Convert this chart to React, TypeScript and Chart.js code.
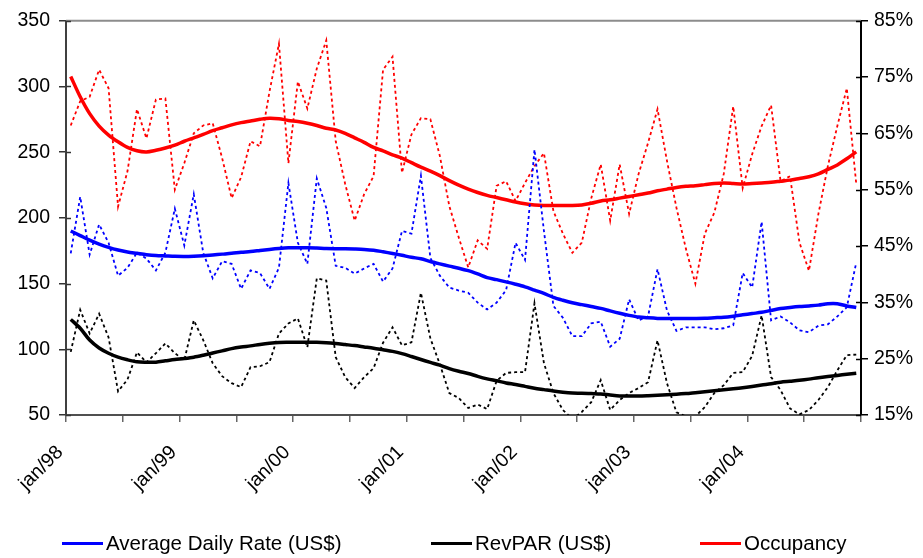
import React, { useEffect, useRef } from 'react';
import { Chart, registerables } from 'chart.js';

Chart.register(...registerables);

const FONT = '"Liberation Sans", Arial, Helvetica, sans-serif';

// x-axis tick labels (one every 12 months; ticks every 6 months)
const tickLabels = ['jan/98', 'jan/99', 'jan/00', 'jan/01', 'jan/02', 'jan/03', 'jan/04'];

// Monthly values, jan/98 .. dec/04
const adrMonthly = [
  173, 216, 172, 195, 181, 156, 162, 173.5, 169, 160, 173.5, 207,
  179, 218, 173.5, 154, 167, 165, 146, 160, 158, 146, 162, 226.5,
  181, 165, 230, 207.5, 163.5, 162, 157.5, 161.5, 165, 151.5, 161.5, 190,
  188, 232, 169.5, 156, 147, 144.7, 143, 135.5, 130.3, 135.5, 145, 181,
  168, 252, 190, 133, 124, 110, 110, 119.7, 121, 102, 108, 138,
  122, 125, 161, 129.5, 114, 116.7, 116.7, 116.7, 115.2, 116, 118.2, 158,
  147, 197, 122, 125, 120.5, 114.4, 113, 118, 119, 125, 132, 166,
];

const revparMonthly = [
  98, 130, 112, 127, 109, 68, 77, 97.7, 90, 97, 104.5, 97,
  91.7, 122, 107, 89.4, 79.5, 74.2, 71.2, 86.4, 87.1, 90.2, 112, 119.7,
  123.5, 101.5, 154, 152.3, 94, 78.8, 70.5, 78.8, 85.6, 105, 116.7, 103,
  105.3, 143, 108.3, 88.6, 66.7, 62.9, 55.3, 58, 54.5, 76, 82, 82.6,
  82.6, 135, 89.4, 66.7, 53.8, 47, 52.3, 59.8, 76.5, 53.8, 61.4, 66.7,
  70.5, 75, 106.8, 74.2, 52, 49, 49, 56, 66.7, 72.7, 82, 82.6,
  95, 125.8, 78.8, 69, 55, 50.5, 53.8, 61.4, 71.2, 84, 95.5, 96,
];

const occMonthly = [
  66.4, 70.7, 71.5, 76.3, 73.0, 52.0, 58.3, 69.3, 64.1, 71.0, 71.2, 55.0,
  59.7, 65.0, 66.4, 66.8, 60.6, 53.5, 57.2, 63.6, 62.7, 72.4, 80.9, 59.7,
  74.2, 69.4, 76.5, 81.5, 63.6, 56.0, 49.5, 54.2, 57.4, 76.3, 78.6, 58.0,
  64.8, 67.7, 67.5, 61.0, 52.1, 46.5, 41.2, 46.0, 44.5, 55.7, 56.5, 53.0,
  56.2, 59.2, 61.5, 51.2, 47.2, 43.8, 45.6, 53.5, 59.5, 49.5, 59.5, 50.7,
  57.8, 63.3, 69.3, 60.1, 51.8, 44.5, 38.3, 47.2, 50.9, 57.8, 69.8, 55.3,
  61.3, 66.3, 70.0, 56.5, 57.4, 45.6, 40.6, 50.7, 59.2, 66.3, 73.0, 56.0,
];

// Trend lines
const adrTrend = [
  190, 186.5, 183, 180, 177.5, 175.5, 174, 173, 172, 171.3, 171, 170.7,
  170.6, 170.8, 171.2, 171.8, 172.4, 173, 173.8, 174.4, 175.2, 176, 176.7, 177.2,
  177.3, 177.3, 177, 176.6, 176.5, 176.5, 176.3, 176, 175.4, 174.2, 172.9, 171.5,
  170, 168.9, 166.8, 165, 163.3, 161.7, 159.8, 157.3, 154.5, 153, 151.3, 149.5,
  147.5, 145, 142.5, 139.5, 137.3, 135.4, 134, 132.5, 131.1, 129.2, 127.4, 125.8,
  124.5, 123.9, 123.5, 123.5, 123.5, 123.5, 123.5, 123.6, 124, 124.4, 125.2, 126.2,
  127.2, 128.1, 129.6, 131, 131.8, 132.5, 133, 133.6, 134.6, 134.6, 133, 131.8,
];

const revparTrend = [
  122.7, 116, 107, 101, 97, 94, 92, 90.5, 90.2, 90.2, 91.2, 92.2,
  93, 94, 95.5, 97.2, 98.8, 100.5, 101.7, 102.6, 103.7, 104.6, 105.2, 105.3,
  105.3, 105.3, 105.3, 105, 104.4, 103.6, 102.8, 101.8, 100.8, 99.6, 98.4, 96.7,
  94.5, 92.2, 90, 87.9, 85.3, 83.3, 81.6, 79.4, 77.5, 76, 74.4, 73.2,
  71.8, 70.4, 69.3, 68.2, 67.3, 66.7, 66.6, 66.3, 66, 65.2, 64.5, 64.4,
  64.4, 64.7, 65.1, 65.5, 65.8, 66.3, 67, 67.7, 68.5, 69.2, 69.9, 70.7,
  71.7, 72.8, 73.8, 75, 75.7, 76.4, 77.3, 78.4, 79.3, 80.1, 81, 81.8,
];

const occTrend = [
  75.1, 71.5, 68.5, 66.3, 64.7, 63.5, 62.5, 61.9, 61.7, 62.0, 62.4, 62.9,
  63.6, 64.2, 64.8, 65.5, 66.0, 66.5, 66.9, 67.2, 67.5, 67.7, 67.6, 67.3,
  67.1, 66.8, 66.4, 65.9, 65.6, 65.0, 64.2, 63.4, 62.5, 61.9, 61.2, 60.6,
  59.8, 59.0, 58.3, 57.5, 56.6, 55.8, 55.1, 54.5, 54.0, 53.6, 53.2, 52.8,
  52.5, 52.3, 52.2, 52.2, 52.2, 52.2, 52.3, 52.6, 53.0, 53.2, 53.5, 53.8,
  54.1, 54.4, 54.8, 55.1, 55.4, 55.6, 55.7, 55.9, 56.1, 56.2, 56.1, 56.0,
  56.1, 56.2, 56.3, 56.5, 56.7, 57.0, 57.3, 57.8, 58.6, 59.4, 60.5, 61.7,
];

const seriesNames = ['Average Daily Rate (US$)', 'RevPAR (US$)', 'Occupancy'];
const seriesColors = ['#0000FF', '#000000', '#FF0000'];

// monthly points sit in the middle of each month
const toPoints = (arr: number[]) => arr.map((v, i) => ({ x: i + 0.5, y: v }));

const axisDecor = {
  id: 'axisDecor',
  afterDraw(chart: any) {
    const { ctx, chartArea: a, scales } = chart;
    ctx.save();
    ctx.strokeStyle = '#8c8c8c';
    ctx.lineWidth = 2;
    ctx.beginPath();
    ctx.moveTo(a.left, a.top);
    ctx.lineTo(a.right, a.top);
    ctx.stroke();
    ctx.lineWidth = 1.5;
    ctx.strokeStyle = '#333333';
    scales.y.ticks.forEach((t: any) => {
      const y = Math.round(scales.y.getPixelForValue(t.value)) + 0.5;
      ctx.beginPath();
      ctx.moveTo(a.left, y);
      ctx.lineTo(a.left + 5, y);
      ctx.stroke();
    });
    ctx.strokeStyle = '#000000';
    scales.y1.ticks.forEach((t: any) => {
      const y = Math.round(scales.y1.getPixelForValue(t.value)) + 0.5;
      ctx.beginPath();
      ctx.moveTo(a.right - 5, y);
      ctx.lineTo(a.right, y);
      ctx.stroke();
    });
    ctx.restore();
  },
};

export default function App() {
  const canvasRef = useRef<HTMLCanvasElement | null>(null);

  useEffect(() => {
    const canvas = canvasRef.current;
    if (!canvas) return;
    const dotted = { borderWidth: 1.8, borderDash: [3, 3], pointRadius: 0, fill: false, tension: 0 };
    const solid = { borderWidth: 3.5, pointRadius: 0, fill: false, tension: 0.3 };
    const [BLUE, BLACK, RED] = seriesColors;
    const chart = new Chart(canvas, {
      type: 'line',
      data: {
        datasets: [
          { label: seriesNames[0] + ' (monthly)', data: toPoints(adrMonthly), borderColor: BLUE, backgroundColor: BLUE, yAxisID: 'y', ...dotted },
          { label: seriesNames[1] + ' (monthly)', data: toPoints(revparMonthly), borderColor: BLACK, backgroundColor: BLACK, yAxisID: 'y', ...dotted },
          { label: seriesNames[2] + ' (monthly)', data: toPoints(occMonthly), borderColor: RED, backgroundColor: RED, yAxisID: 'y1', ...dotted },
          { label: seriesNames[0], data: toPoints(adrTrend), borderColor: BLUE, backgroundColor: BLUE, yAxisID: 'y', ...solid },
          { label: seriesNames[1], data: toPoints(revparTrend), borderColor: BLACK, backgroundColor: BLACK, yAxisID: 'y', ...solid },
          { label: seriesNames[2], data: toPoints(occTrend), borderColor: RED, backgroundColor: RED, yAxisID: 'y1', ...solid },
        ],
      },
      options: {
        animation: false,
        responsive: false,
        devicePixelRatio: 1,
        layout: { padding: { top: 19, left: 0, right: 0, bottom: 0 } },
        plugins: {
          tooltip: { enabled: false },
          legend: { display: false },
        },
        scales: {
          x: {
            type: 'linear',
            min: 0,
            max: 84,
            afterFit: (s: any) => { s.height = 143; },
            ticks: {
              stepSize: 6,
              maxTicksLimit: 100,
              autoSkip: false,
              maxRotation: 45,
              minRotation: 45,
              padding: 19,
              labelOffset: -6,
              color: '#000',
              font: { family: FONT, size: 19.5 },
              callback: (v: any) => {
                const n = Math.round(Number(v));
                return n % 12 === 0 && n / 12 < tickLabels.length ? tickLabels[n / 12] : '';
              },
            },
            grid: { drawOnChartArea: false, drawTicks: true, tickLength: 7, color: '#666666', lineWidth: 1.5 },
            border: { display: true, color: '#505050', width: 2 },
          },
          y: {
            type: 'linear',
            position: 'left',
            min: 50,
            max: 350,
            afterFit: (s: any) => { s.width = 66; },
            ticks: { stepSize: 50, padding: 9, color: '#000', font: { family: FONT, size: 19.5 } },
            grid: { drawOnChartArea: false, drawTicks: true, tickLength: 7, color: '#333333', lineWidth: 1.5 },
            border: { display: true, color: '#404040', width: 2 },
          },
          y1: {
            type: 'linear',
            position: 'right',
            min: 15,
            max: 85,
            afterFit: (s: any) => { s.width = 62; },
            ticks: {
              stepSize: 10,
              padding: 6,
              color: '#000',
              font: { family: FONT, size: 19.5 },
              callback: (v: any) => `${v}%`,
            },
            grid: { drawOnChartArea: false, drawTicks: true, tickLength: 7, color: '#000000', lineWidth: 1.5 },
            border: { display: true, color: '#000000', width: 2 },
          },
        },
      },
      plugins: [axisDecor],
    } as any);
    return () => chart.destroy();
  }, []);

  const legendLeft = [62, 431, 700];

  return (
    <div style={{ position: 'fixed', left: 0, top: 0, width: 923, height: 558, overflow: 'hidden', background: '#fff' }}>
      <canvas ref={canvasRef} width={923} height={558} style={{ display: 'block', width: 923, height: 558 }} />
      {seriesNames.map((name, i) => (
        <div
          key={name}
          style={{
            position: 'absolute',
            left: legendLeft[i],
            top: 531,
            height: 24,
            display: 'flex',
            alignItems: 'center',
            fontFamily: FONT,
            fontSize: 20.5,
            lineHeight: '24px',
            color: '#000',
            whiteSpace: 'nowrap',
          }}
        >
          <span style={{ display: 'inline-block', width: 41, height: 3, background: seriesColors[i], marginRight: 3 }} />
          <span>{name}</span>
        </div>
      ))}
    </div>
  );
}
